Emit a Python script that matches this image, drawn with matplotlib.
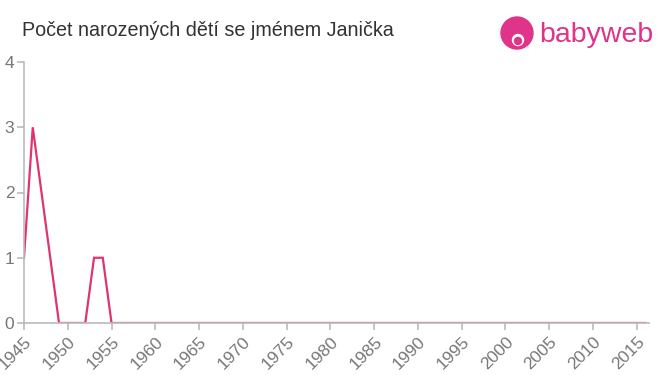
import matplotlib
matplotlib.use("Agg")
import matplotlib.pyplot as plt
from matplotlib.patches import Ellipse

plt.rcParams['font.family'] = ['Liberation Sans', 'DejaVu Sans']

years = list(range(1945, 2017))
counts = [1, 3, 2, 1, 0, 0, 0, 0, 1, 1] + [0] * (2016 - 1955 + 1)
xticks = list(range(1945, 2016, 5))
yticks = [0, 1, 2, 3, 4]
title = "Počet narozených dětí se jménem Janička"

fig = plt.figure(figsize=(6.6, 3.75), dpi=100)
ax = fig.add_axes([24/660, 1-323/375, (649-24)/660, (323-62)/375])
ax.plot(years, counts, color='#e0356b', lw=1.6, solid_joinstyle='miter')
ax.set_xlim(1945, 2016.4)
ax.set_ylim(0, 4)
ax.set_xticks(xticks)
ax.set_xticklabels([str(x) for x in xticks], rotation=45, ha='right', rotation_mode='anchor')
ax.set_yticks(yticks)
for s in ['top', 'right']:
    ax.spines[s].set_visible(False)
for s in ['left', 'bottom']:
    ax.spines[s].set_color('#bbbbbb')
    ax.spines[s].set_linewidth(1.2)
ax.tick_params(axis='both', colors='#bbbbbb', length=5, width=1.2, labelcolor='#777777', labelsize=12.5)
ax.tick_params(axis='x', pad=3)
ax.tick_params(axis='y', pad=2)

fig.text(22/660, 1-31/375, title, fontsize=14.2, color='#333333', va='center', ha='left')

# logo
logo_color = '#e0338a'
cx, cy = 517/660, 1-33/375
fig.patches.append(Ellipse((cx, cy), 32/660, 32/375, transform=fig.transFigure, color=logo_color))
fig.patches.append(Ellipse((cx + 1/660, cy - 7/375), 11/660, 11/375, transform=fig.transFigure, color='white'))
fig.patches.append(Ellipse((cx + 1/660, cy - 8/375), 7/660, 7/375, transform=fig.transFigure, color=logo_color))
fig.text(539/660, 1-35/375, "babyweb", fontsize=20.5, color=logo_color, va='center', ha='left')

fig.savefig("out.png", dpi=100)
